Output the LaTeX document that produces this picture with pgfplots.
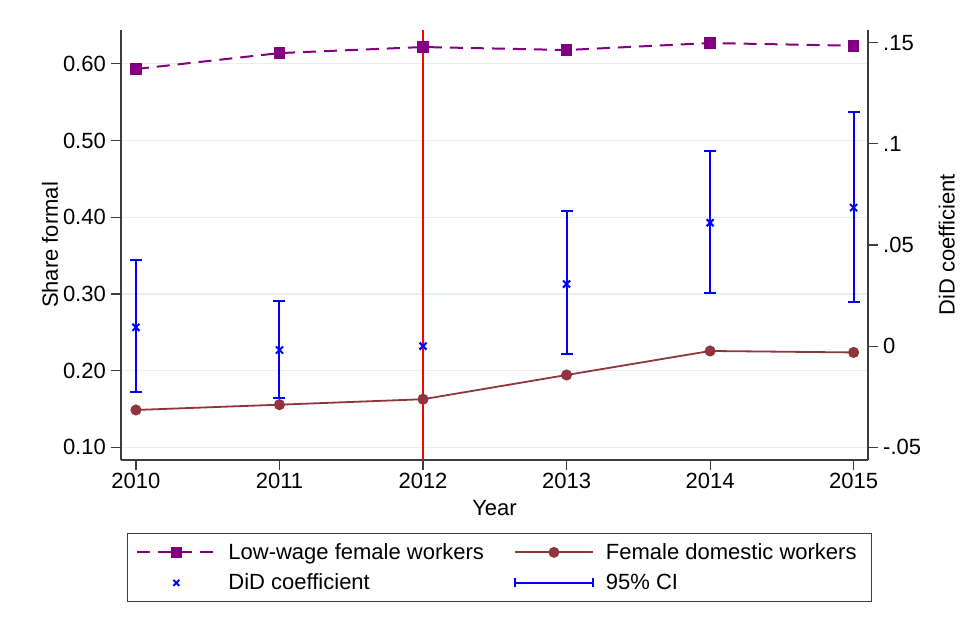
\documentclass[border=0pt]{standalone}
\usepackage{pgfplots}
\pgfplotsset{compat=1.18}
\usepackage{pgfplotstable}
\usepackage{fontspec}
\setmainfont{Liberation Sans}

\definecolor{lowwage}{RGB}{128,0,128}
\definecolor{domestic}{RGB}{144,53,59}
\definecolor{gridc}{RGB}{232,239,241}
\definecolor{axisc}{RGB}{60,60,60}

% Legend symbols, 78bp wide
\pgfplotsset{
  markline legend/.style={legend image code/.code={\draw[mark repeat=2, mark phase=2, ##1]
      plot coordinates {(0bp,0bp) (39bp,0bp) (78bp,0bp)};}},
  markonly legend/.style={legend image code/.code={\path[draw=none, fill=none] (0bp,0bp) -- (78bp,0bp);
      \draw[##1] plot coordinates {(39bp,0bp)};}},
  ci legend/.style={legend image code/.code={\draw[##1] (0bp,0bp) -- (78bp,0bp)
      (0bp,-4.5bp) -- (0bp,4.5bp) (78bp,-4.5bp) -- (78bp,4.5bp);}},
}

% Share of formal workers by group
\pgfplotstableread{
year lowwage domestic
2010 0.5931 0.1487
2011 0.6139 0.1556
2012 0.6218 0.1627
2013 0.6179 0.1943
2014 0.6270 0.2256
2015 0.6235 0.2237
}\sharetab

% DiD point estimates (2012 is the reference year)
\pgfplotstableread{
year coef
2010 0.0093
2011 -0.0019
2012 0.0000
2013 0.0307
2014 0.0610
2015 0.0685
}\coeftab

% 95% confidence intervals: lower and upper bound per year
\pgfplotstableread{
year bound
2010 -0.0228
2010 0.0426
2010 nan
2011 -0.0258
2011 0.0225
2011 nan
2013 -0.0039
2013 0.0667
2013 nan
2014 0.0261
2014 0.0966
2014 nan
2015 0.0220
2015 0.1156
}\citab

\newcommand{\chartfont}{\fontsize{22bp}{26bp}\selectfont}

\begin{document}
\begin{tikzpicture}
\pgfplotsset{
  every axis/.append style={
    scale only axis, width=747bp, height=430bp,
    at={(121bp,166bp)}, anchor=south west,
    xmin=2009.896, xmax=2015.1,
    tick align=outside, major tick length=10bp,
    every tick/.style={axisc, line width=1.2bp},
    axis line style={axisc, line width=1.2bp},
    tick label style={font=\chartfont, black},
    label style={font=\chartfont},
  },
}

\begin{axis}[
  axis x line*=bottom, axis y line*=left,
  ymin=0.0835, ymax=0.644,
  xtick={2010,2011,2012,2013,2014,2015},
  xticklabels={2010,2011,2012,2013,2014,2015},
  ytick={0.1,0.2,0.3,0.4,0.5,0.6},
  yticklabels={0.10,0.20,0.30,0.40,0.50,0.60},
  yticklabel style={inner xsep=5bp},
  ymajorgrids, grid style={gridc, line width=1.2bp},
  xlabel={Year},
  xlabel style={at={(axis description cs:0.5,-0.1116)}, anchor=center},
  ylabel={Share formal},
  ylabel style={at={(axis description cs:-0.095,0.5)}, anchor=center},
]
  % policy year
  \addplot[red, line width=1.5bp] coordinates {(2012,0.0835) (2012,0.644)};
  \addplot[lowwage, line width=2bp, dash pattern=on 13bp off 8bp,
    mark=square*, mark size=4.8bp, mark options={solid, fill=lowwage}]
    table[x=year, y=lowwage] {\sharetab};
  \addplot[domestic, line width=1.8bp, mark=*, mark size=4.6bp,
    mark options={solid, fill=domestic}]
    table[x=year, y=domestic] {\sharetab};
\end{axis}

\begin{axis}[
  axis x line=none, axis y line*=right,
  ymin=-0.0563, ymax=0.1563,
  ytick={-0.05,0,0.05,0.1,0.15},
  yticklabels={-.05,0,.05,.1,.15},
  yticklabel style={inner xsep=5bp},
  ylabel={DiD coefficient},
  ylabel style={at={(axis description cs:1.1053,0.5)}, anchor=center},
  unbounded coords=jump,
  legend columns=2,
  legend cell align=left,
  legend style={
    at={(axis description cs:0.5067,-0.1698)}, anchor=north,
    draw=axisc, line width=1.2bp, fill=white,
    inner xsep=9bp, inner ysep=6bp,
    font=\chartfont,
    nodes={inner xsep=6bp, inner ysep=3bp, text height=16.5bp, text depth=3bp},
    /tikz/every odd column/.append style={column sep=6bp},
    /tikz/every even column/.append style={column sep=24bp},
    row sep=5bp,
  },
]
  \addplot[blue, line width=2bp, mark=-, mark size=6bp,
    mark options={solid, line width=2bp}, forget plot]
    table[x=year, y=bound] {\citab};
  \addplot[blue, only marks, mark=x, mark size=5bp, line width=2bp, forget plot]
    table[x=year, y=coef] {\coeftab};

  \addlegendimage{lowwage, line width=2bp, dash pattern=on 13bp off 8bp,
    mark=square*, mark size=4.5bp, mark options={solid, fill=lowwage},
    markline legend}
  \addlegendentry{Low-wage female workers}
  \addlegendimage{domestic, line width=1.8bp, mark=*, mark size=4.5bp,
    mark options={solid, fill=domestic}, markline legend}
  \addlegendentry{Female domestic workers}
  \addlegendimage{blue, mark=x, mark size=4.2bp, line width=2bp, markonly legend}
  \addlegendentry{DiD coefficient}
  \addlegendimage{blue, line width=2bp, ci legend}
  \addlegendentry{95\% CI}
\end{axis}

\path[use as bounding box] (0bp,0bp) rectangle (963bp,626bp);
\end{tikzpicture}
\end{document}
